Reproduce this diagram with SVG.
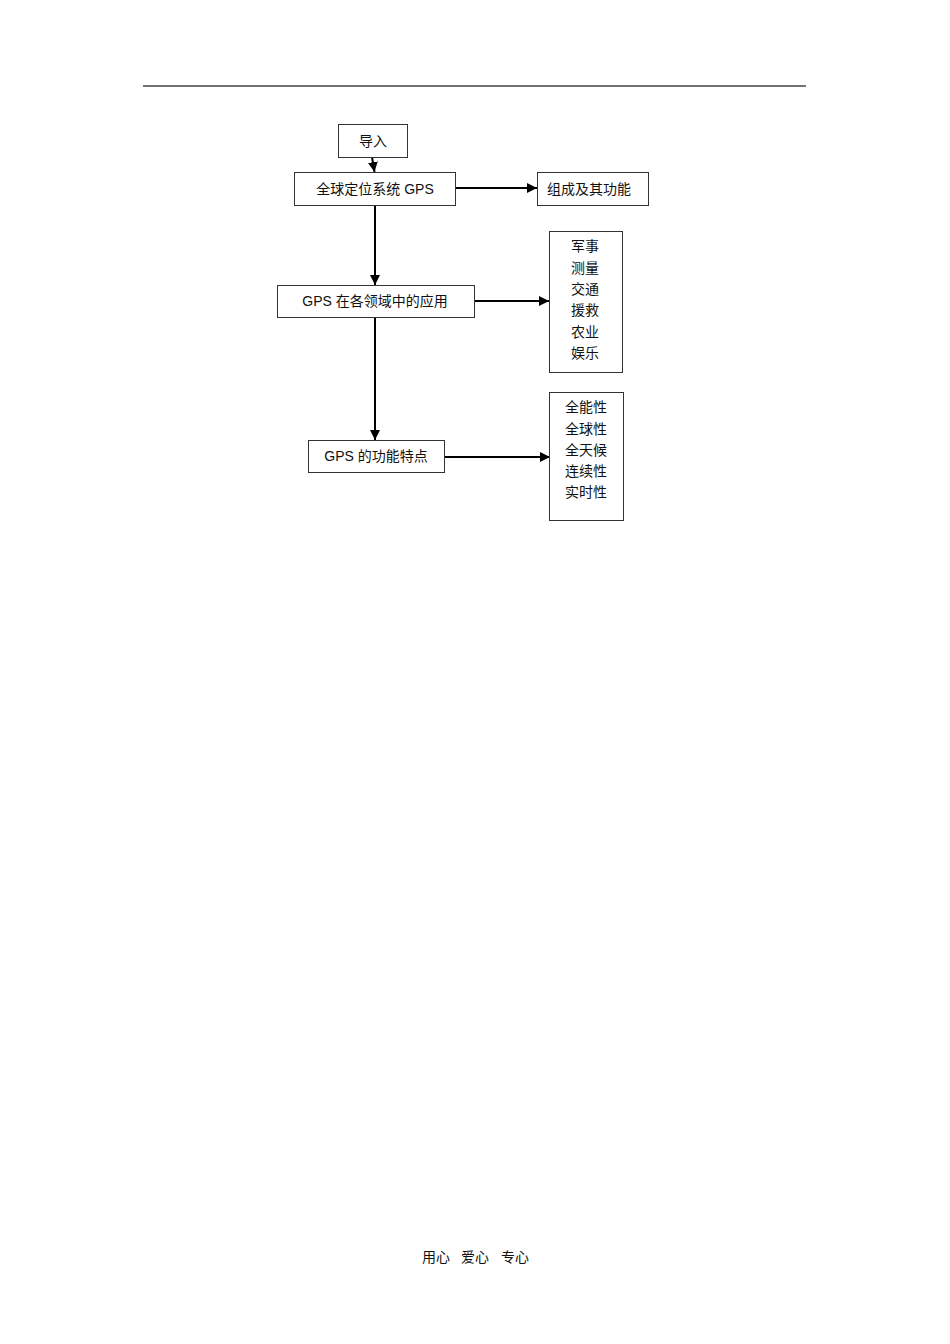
<svg xmlns="http://www.w3.org/2000/svg" width="950" height="1344" viewBox="0 0 950 1344">
<style>
.box{fill:#fff;stroke:#333;stroke-width:1}
.t{font-family:"Liberation Sans","Noto Sans CJK SC",sans-serif;font-size:14px;fill:#111}
.c{fill:none;stroke:#000;stroke-width:2}
</style>
<defs>
<marker id="ah" viewBox="0 0 10 10" refX="10" refY="5" markerWidth="5" markerHeight="5" markerUnits="strokeWidth" orient="auto">
<path d="M0,0 L10,5 L0,10 z" fill="#000"/>
</marker>
</defs>
<rect width="950" height="1344" fill="#fff"/>
<line x1="143" y1="86" x2="806" y2="86" stroke="#444" stroke-width="1.5"/>
<g id="connectors">
<line class="c" x1="372" y1="157" x2="374.5" y2="172" marker-end="url(#ah)"/>
<line class="c" x1="456" y1="188" x2="537" y2="188" marker-end="url(#ah)"/>
<line class="c" x1="375" y1="205" x2="375" y2="285" marker-end="url(#ah)"/>
<line class="c" x1="474" y1="301" x2="549" y2="301" marker-end="url(#ah)"/>
<line class="c" x1="375" y1="317" x2="375" y2="440" marker-end="url(#ah)"/>
<line class="c" x1="444" y1="457" x2="550" y2="457" marker-end="url(#ah)"/>
</g>
<g id="n-intro">
<rect class="box" x="338.5" y="124.5" width="69" height="33"/>
<text class="t" x="373" y="146" text-anchor="middle">导入</text>
</g>
<g id="n-gps">
<rect class="box" x="294.5" y="172.5" width="161" height="33"/>
<text class="t" x="375" y="194" text-anchor="middle">全球定位系统 GPS</text>
</g>
<g id="n-comp">
<rect class="box" x="537.5" y="172.5" width="111" height="33"/>
<text class="t" x="589" y="194" text-anchor="middle">组成及其功能</text>
</g>
<g id="n-app">
<rect class="box" x="277.5" y="285.5" width="197" height="32"/>
<text class="t" x="375" y="306" text-anchor="middle">GPS 在各领域中的应用</text>
</g>
<g id="n-fields">
<rect class="box" x="549.5" y="231.5" width="73" height="141"/>
<text class="t" text-anchor="middle"><tspan x="585" y="251">军事</tspan><tspan x="585" y="273">测量</tspan><tspan x="585" y="294">交通</tspan><tspan x="585" y="315">援救</tspan><tspan x="585" y="337">农业</tspan><tspan x="585" y="358">娱乐</tspan></text>
</g>
<g id="n-feat">
<rect class="box" x="308.5" y="440.5" width="136" height="32"/>
<text class="t" x="376" y="461" text-anchor="middle">GPS 的功能特点</text>
</g>
<g id="n-props">
<rect class="box" x="549.5" y="392.5" width="74" height="128"/>
<text class="t" text-anchor="middle"><tspan x="586" y="412">全能性</tspan><tspan x="586" y="434">全球性</tspan><tspan x="586" y="455">全天候</tspan><tspan x="586" y="476">连续性</tspan><tspan x="586" y="497">实时性</tspan></text>
</g>
<g id="footer">
<text class="t" x="436" y="1262" text-anchor="middle">用心</text>
<text class="t" x="475" y="1262" text-anchor="middle">爱心</text>
<text class="t" x="515" y="1262" text-anchor="middle">专心</text>
</g>
</svg>
